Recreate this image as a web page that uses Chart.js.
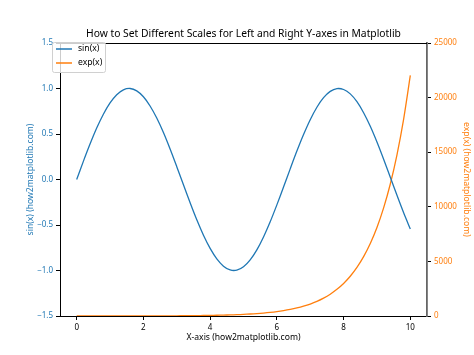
<!DOCTYPE html>
<html>
<head>
<meta charset="utf-8">
<script src="https://cdn.jsdelivr.net/npm/chart.js@4.4.1/dist/chart.umd.min.js"></script>
<style>
html,body{margin:0;padding:0;background:#fff;}
#wrap{width:474px;height:355px;position:relative;}
</style>
</head>
<body>
<div id="wrap"><canvas id="c" width="474" height="355"></canvas></div>
<script>
const titleText = "How to Set Different Scales for Left and Right Y-axes in Matplotlib";
const xLabel = "X-axis (how2matplotlib.com)";
const leftLabel = "sin(x) (how2matplotlib.com)";
const rightLabel = "exp(x) (how2matplotlib.com)";
const seriesNames = ["sin(x)", "exp(x)"];

const xValues = [0,0.2,0.4,0.6,0.8,1.0,1.2,1.4,1.6,1.8,2.0,2.2,2.4,2.6,2.8,3.0,3.2,3.4,3.6,3.8,4.0,4.2,4.4,4.6,4.8,5.0,5.2,5.4,5.6,5.8,6.0,6.2,6.4,6.6,6.8,7.0,7.2,7.4,7.6,7.8,8.0,8.2,8.4,8.6,8.8,9.0,9.2,9.4,9.6,9.8,10.0];
const sinValues = [0.000,0.199,0.389,0.565,0.717,0.841,0.932,0.985,1.000,0.974,0.909,0.808,0.675,0.516,0.335,0.141,-0.058,-0.256,-0.443,-0.612,-0.757,-0.872,-0.952,-0.994,-0.996,-0.959,-0.883,-0.773,-0.631,-0.465,-0.279,-0.083,0.117,0.312,0.494,0.657,0.794,0.899,0.968,0.999,0.989,0.941,0.855,0.734,0.585,0.412,0.223,0.025,-0.174,-0.366,-0.544];
const expValues = [1,1.2,1.5,1.8,2.2,2.7,3.3,4.1,5.0,6.0,7.4,9.0,11,13.5,16.4,20.1,24.5,30.0,36.6,44.7,54.6,66.7,81.5,99.5,121.5,148.4,181.3,221.4,270.4,330.3,403.4,492.7,601.8,735.1,897.8,1096.6,1339.4,1636.0,1998.2,2440.6,2981.0,3641.0,4447.1,5431.7,6634.2,8103.1,9897.1,12088.4,14764.8,18033.7,22026.5];

const xTicks = [0,2,4,6,8,10];
const leftTicks = [-1.5,-1.0,-0.5,0.0,0.5,1.0,1.5];
const leftTickLabels = ["\u22121.5","\u22121.0","\u22120.5","0.0","0.5","1.0","1.5"];
const rightTicks = [0,5000,10000,15000,20000,25000];
const rightTickLabels = ["0","5000","10000","15000","20000","25000"];

const BLUE = "#1f77b4", ORANGE = "#ff7f0e";
const FONT = "'Noto Sans', sans-serif";
const TICK_SIZE = 8, LABEL_SIZE = 8.6, TITLE_SIZE = 10.3;

const sinData = xValues.map((x,i)=>({x:x,y:sinValues[i]}));
const expData = xValues.map((x,i)=>({x:x,y:expValues[i]}));

const decor = {
  id:'decor',
  afterDraw(chart){
    const ctx = chart.ctx, a = chart.chartArea;
    ctx.save();
    // top spine
    ctx.strokeStyle = '#000'; ctx.lineWidth = 1;
    ctx.beginPath(); ctx.moveTo(a.left, a.top+0.5); ctx.lineTo(a.right, a.top+0.5); ctx.stroke();
    // title
    ctx.fillStyle = '#000';
    ctx.font = TITLE_SIZE + "px " + FONT;
    ctx.textAlign = 'center'; ctx.textBaseline = 'alphabetic';
    ctx.fillText(titleText, (a.left+a.right)/2, a.top-6);
    // legend
    const lx = a.left - 8, ly = a.top - 1, lw = 53, lh = 30;
    ctx.fillStyle = 'rgba(255,255,255,0.8)';
    ctx.strokeStyle = '#d0d0d0';
    ctx.lineWidth = 1;
    ctx.beginPath();
    if (ctx.roundRect) ctx.roundRect(lx+0.5, ly+0.5, lw, lh, 2); else ctx.rect(lx+0.5, ly+0.5, lw, lh);
    ctx.fill(); ctx.stroke();
    const cols = [BLUE, ORANGE];
    ctx.font = LABEL_SIZE + "px " + FONT;
    ctx.textAlign = 'left'; ctx.textBaseline = 'middle';
    for (let i=0;i<2;i++){
      const yy = ly + 7 + i*14;
      ctx.strokeStyle = cols[i]; ctx.lineWidth = 1.5;
      ctx.beginPath(); ctx.moveTo(lx+4, yy); ctx.lineTo(lx+20, yy); ctx.stroke();
      ctx.fillStyle = '#000';
      ctx.fillText(seriesNames[i], lx+26, yy);
    }
    ctx.restore();
  }
};

new Chart(document.getElementById('c'), {
  type:'scatter',
  data:{
    datasets:[
      {label:seriesNames[0], data:sinData, yAxisID:'y', showLine:true, borderColor:BLUE, backgroundColor:BLUE, borderWidth:1.3, pointRadius:0, tension:0.3, fill:false},
      {label:seriesNames[1], data:expData, yAxisID:'y1', showLine:true, borderColor:ORANGE, backgroundColor:ORANGE, borderWidth:1.3, pointRadius:0, tension:0.3, fill:false}
    ]
  },
  options:{
    responsive:false,
    animation:false,
    layout:{padding:{top:43,left:0,right:0,bottom:0}},
    plugins:{legend:{display:false}, title:{display:false}, tooltip:{enabled:false}},
    scales:{
      x:{
        type:'linear', min:-0.5, max:10.5,
        afterBuildTicks(s){ s.ticks = xTicks.map(v=>({value:v})); },
        afterFit(s){ s.height = 39; },
        grid:{drawOnChartArea:false, drawTicks:true, tickLength:4, color:'#000'},
        border:{display:true, color:'#000', width:1},
        ticks:{color:'#000', font:{family:FONT, size:TICK_SIZE}, padding:3, maxRotation:0, callback:(v)=>String(v)},
        title:{display:true, text:xLabel, color:'#000', font:{family:FONT, size:LABEL_SIZE}, padding:{top:0,bottom:12}}
      },
      y:{
        type:'linear', position:'left', min:-1.5, max:1.5,
        afterBuildTicks(s){ s.ticks = leftTicks.map(v=>({value:v})); },
        afterFit(s){ s.width = 60; },
        grid:{drawOnChartArea:false, drawTicks:true, tickLength:4, color:'#000'},
        border:{display:true, color:'#000', width:1},
        ticks:{color:BLUE, font:{family:FONT, size:TICK_SIZE}, padding:3, callback:(v)=>{const i=leftTicks.indexOf(v); return i>=0?leftTickLabels[i]:'';}},
        title:{display:true, text:leftLabel, color:BLUE, font:{family:FONT, size:LABEL_SIZE}, padding:{top:25,bottom:0}}
      },
      y1:{
        type:'linear', position:'right', min:0, max:25000,
        afterBuildTicks(s){ s.ticks = rightTicks.map(v=>({value:v})); },
        afterFit(s){ s.width = 47; },
        grid:{drawOnChartArea:false, drawTicks:true, tickLength:4, color:'#000'},
        border:{display:true, color:'#666', width:1.8},
        ticks:{color:ORANGE, font:{family:FONT, size:TICK_SIZE}, padding:3, callback:(v)=>{const i=rightTicks.indexOf(v); return i>=0?rightTickLabels[i]:'';}},
        title:{display:true, text:rightLabel, color:ORANGE, font:{family:FONT, size:LABEL_SIZE}, padding:{top:2,bottom:0}}
      }
    }
  },
  plugins:[decor]
});
</script>
</body>
</html>
